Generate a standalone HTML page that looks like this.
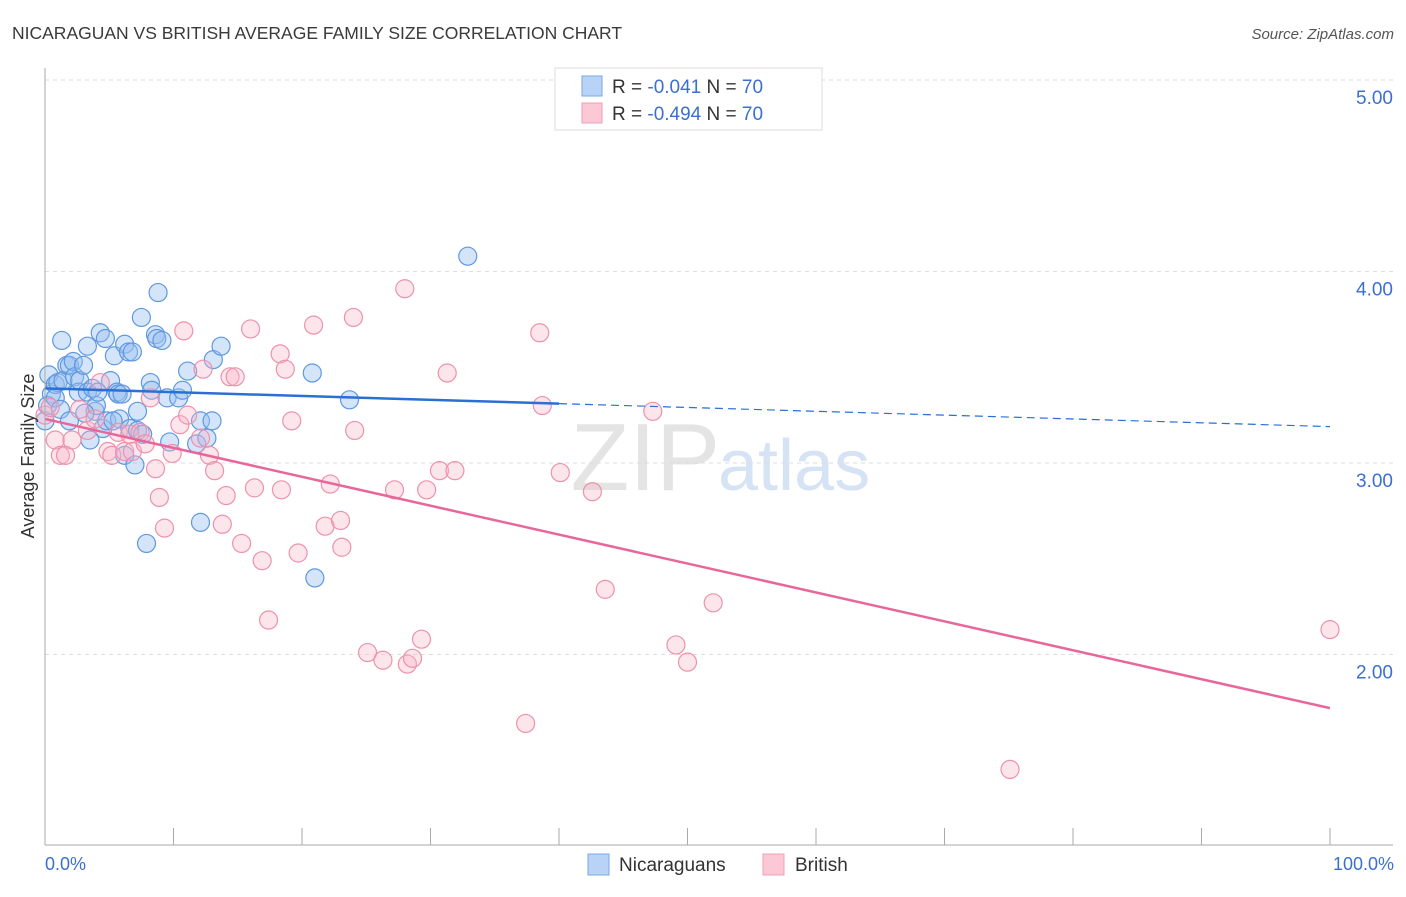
<!DOCTYPE html>
<html><head><meta charset="utf-8"><style>
body{margin:0;background:#fff;font-family:"Liberation Sans",sans-serif;}
svg text{font-family:"Liberation Sans",sans-serif;}
</style></head><body>
<svg id="chart" width="1406" height="892" xmlns="http://www.w3.org/2000/svg">
<text x="12" y="39" font-size="17.5" fill="#3a3a3a">NICARAGUAN VS BRITISH AVERAGE FAMILY SIZE CORRELATION CHART</text>
<text x="1394" y="39" font-size="15" fill="#555" text-anchor="end" font-style="italic">Source: ZipAtlas.com</text>
<text x="720" y="490" font-size="96" fill="#e4e4e4" text-anchor="end" font-family="Liberation Serif">ZIP</text>
<text x="718" y="490" font-size="72" fill="#d6e3f5">atlas</text>
<g id="grid"></g><g id="pts"></g><g id="trend"></g>
<line x1="45" y1="68" x2="45" y2="845" stroke="#aaa"/>
<line x1="45" y1="845" x2="1393" y2="845" stroke="#aaa"/>
<text transform="translate(34,456) rotate(-90)" font-size="18" fill="#333" text-anchor="middle">Average Family Size</text>
<text x="45" y="870" font-size="18" fill="#3b6fd1">0.0%</text>
<text x="1394" y="870" font-size="18" fill="#3b6fd1" text-anchor="end">100.0%</text>
<g>
<rect x="555" y="68" width="267" height="62" fill="#fff" stroke="#ddd"/>
<rect x="582" y="76" width="20" height="20" fill="#b8d3f5" stroke="#7aa7e6"/>
<rect x="582" y="103" width="20" height="20" fill="#fcc8d6" stroke="#eea0b6"/>
<text x="612" y="93" font-size="19" fill="#333">R = <tspan fill="#3b6fd1">-0.041</tspan>   N = <tspan fill="#3b6fd1">70</tspan></text>
<text x="612" y="120" font-size="19" fill="#333">R = <tspan fill="#3b6fd1">-0.494</tspan>   N = <tspan fill="#3b6fd1">70</tspan></text>
</g>
<g>
<rect x="588" y="854" width="21" height="21" fill="#b8d3f5" stroke="#7aa7e6"/>
<text x="619" y="871" font-size="19" fill="#333">Nicaraguans</text>
<rect x="763" y="854" width="21" height="21" fill="#fcc8d6" stroke="#eea0b6"/>
<text x="795" y="871" font-size="19" fill="#333">British</text>
</g>
</svg>
<script>
const yTicks=[2,3,4,5];
const yTickLabels=["2.00","3.00","4.00","5.00"];
const xTicks=[0,10,20,30,40,50,60,70,80,90,100];
const blueX=[0.3,0.5,0.8,1.0,1.3,1.4,1.7,1.9,2.2,2.3,2.6,2.7,3.0,3.3,3.3,3.7,3.9,4.0,4.1,4.3,4.5,4.7,4.8,5.1,5.4,5.6,5.7,5.8,6.0,6.2,6.2,6.5,6.6,6.8,7.0,7.2,7.2,7.5,7.6,7.9,8.2,8.3,8.6,8.7,8.8,9.1,9.5,9.7,10.4,10.7,11.1,11.8,12.1,12.1,12.6,13.0,13.1,13.7,20.8,21.0,23.7,32.9,0,0.2,0.8,1.2,1.9,3.1,5.3,3.5];
const blueY=[3.46,3.36,3.41,3.42,3.64,3.43,3.51,3.51,3.53,3.45,3.37,3.43,3.51,3.61,3.37,3.39,3.27,3.30,3.37,3.68,3.18,3.65,3.22,3.43,3.56,3.37,3.36,3.23,3.36,3.62,3.04,3.58,3.18,3.58,2.99,3.27,3.17,3.76,3.15,2.58,3.42,3.38,3.67,3.65,3.89,3.64,3.34,3.11,3.34,3.38,3.48,3.10,3.22,2.69,3.13,3.22,3.54,3.61,3.47,2.40,3.33,4.08,3.22,3.30,3.34,3.28,3.22,3.26,3.22,3.12];
const pinkX=[0,0.4,0.8,1.2,1.6,2.1,2.7,3.3,3.9,4.3,4.9,5.2,5.7,6.2,6.6,6.8,7.4,7.8,8.2,8.6,8.9,9.3,9.9,10.5,10.8,11.1,12.1,12.3,12.8,13.2,13.8,14.1,14.4,14.8,15.3,16.0,16.3,16.9,17.4,18.3,18.4,18.7,19.2,19.7,20.9,21.8,22.2,23.0,23.1,24.0,24.1,25.1,26.3,27.2,28.0,28.2,28.6,29.3,29.7,30.7,31.3,31.9,37.4,38.5,38.7,40.1,42.6,43.6,47.3,49.1,50.0,52.0,75.1,100];
const pinkY=[3.25,3.29,3.12,3.04,3.04,3.12,3.28,3.17,3.23,3.42,3.06,3.04,3.16,3.06,3.15,3.06,3.16,3.10,3.34,2.97,2.82,2.66,3.05,3.20,3.69,3.25,3.13,3.49,3.04,2.96,2.68,2.83,3.45,3.45,2.58,3.70,2.87,2.49,2.18,3.57,2.86,3.49,3.22,2.53,3.72,2.67,2.89,2.70,2.56,3.76,3.17,2.01,1.97,2.86,3.91,1.95,1.98,2.08,2.86,2.96,3.47,2.96,1.64,3.68,3.30,2.95,2.85,2.34,3.27,2.05,1.96,2.27,1.40,2.13];
const blueTrend=[3.39,3.31,3.19];
const pinkTrend=[3.23,1.72];
const NS="http://www.w3.org/2000/svg";
const X=v=>45+v*12.85, Y=v=>80+(5-v)*191.5;
function mk(tag,at,parent){const e=document.createElementNS(NS,tag);for(const k in at)e.setAttribute(k,at[k]);document.getElementById(parent).appendChild(e);return e;}
yTicks.forEach((t,i)=>{
 const l=mk('line',{x1:45,x2:1393,y1:Y(t),y2:Y(t),stroke:'#ddd','stroke-dasharray':'4,4'},'grid');
 
 
 const tx=mk('text',{x:1393,y:Y(t)+24,'font-size':19,fill:'#3b6fd1','text-anchor':'end'},'grid');
 tx.textContent=yTickLabels[i];
 
 
});
xTicks.forEach(t=>{
 const l=mk('line',{x1:X(t),x2:X(t),y1:828,y2:845,stroke:'#aaa'},'grid');
 
 
});
blueX.forEach((x,i)=>{
 const c=mk('circle',{cx:X(x),cy:Y(blueY[i]),r:9,fill:'rgba(150,190,240,0.4)',stroke:'#5f98e0','stroke-width':1.2},'pts');
 
 
});
pinkX.forEach((x,i)=>{
 const c=mk('circle',{cx:X(x),cy:Y(pinkY[i]),r:9,fill:'rgba(248,180,200,0.35)',stroke:'#ec92ac','stroke-width':1.2},'pts');
 
 
});
const b1=mk('line',{x1:X(0),y1:Y(blueTrend[0]),x2:X(40),y2:Y(blueTrend[1]),stroke:'#2a6fd6','stroke-width':2.5},'trend');


const b2=mk('line',{x1:X(40),y1:Y(blueTrend[1]),x2:X(100),y2:Y(blueTrend[2]),stroke:'#2a6fd6','stroke-width':1.2,'stroke-dasharray':'8,5'},'trend');


const p1=mk('line',{x1:X(0),y1:Y(pinkTrend[0]),x2:X(100),y2:Y(pinkTrend[1]),stroke:'#e8679a','stroke-width':2.5},'trend');


</script>
</body></html>
